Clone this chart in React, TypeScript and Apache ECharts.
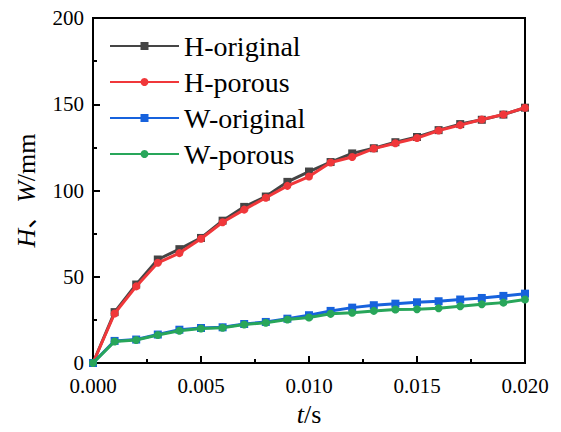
import React, { useEffect, useRef } from "react";
import * as echarts from "echarts";

const times = [0, 0.001, 0.002, 0.003, 0.004, 0.005, 0.006, 0.007, 0.008, 0.009, 0.01, 0.011, 0.012, 0.013, 0.014, 0.015, 0.016, 0.017, 0.018, 0.019, 0.02];
const hOriginal = [0, 29.5, 45.5, 60, 66, 72.5, 82.5, 90.5, 96.5, 105, 111, 116.5, 121.5, 124.5, 128, 131, 135, 138.5, 141, 144, 148];
const hPorous = [0, 28.7, 44.4, 58.1, 63.7, 72, 81.6, 88.9, 95.8, 102.7, 108.1, 116.2, 119.4, 124.3, 127.4, 130.4, 134.8, 137.9, 141.2, 144.1, 148];
const wOriginal = [0, 12.8, 13.6, 16.5, 19.3, 20.3, 20.7, 22.6, 23.8, 25.7, 27.7, 30.2, 32.1, 33.5, 34.4, 35.2, 35.8, 36.8, 37.7, 38.9, 40.2];
const wPorous = [0, 12.5, 13.3, 16.2, 18.7, 20, 20.4, 22.3, 23.3, 25.2, 26.4, 28.5, 29.1, 30.2, 31, 31.2, 31.7, 32.9, 34.1, 35, 36.8];
const seriesNames = ["H-original", "H-porous", "W-original", "W-porous"];
const colors = ["#454545", "#f0373a", "#1762dd", "#28a65a"];
const symbols = ["rect", "circle", "rect", "circle"];

const FONT = "Liberation Serif";
const serif = (size: number, italic = false) => ({
  fontFamily: FONT,
  fontSize: size,
  color: "#000",
  fontStyle: italic ? "italic" : "normal",
});

export default function App() {
  const ref = useRef<HTMLDivElement>(null);
  useEffect(() => {
    if (!ref.current) return;
    const chart = echarts.init(ref.current, null, { renderer: "svg" });
    const all = [hOriginal, hPorous, wOriginal, wPorous];
    chart.setOption({
      animation: false,
      backgroundColor: "#ffffff",
      textStyle: { fontFamily: FONT },
      grid: {
        left: 93,
        right: 36,
        top: 18,
        bottom: 67,
        show: true,
        borderColor: "#000",
        borderWidth: 2,
        backgroundColor: "transparent",
      },
      legend: {
        orient: "vertical",
        left: 104,
        top: 26,
        itemWidth: 69,
        itemHeight: 10,
        itemGap: 6,
        data: seriesNames,
        textStyle: { fontFamily: FONT, fontSize: 28, color: "#000", lineHeight: 30 },
      },
      xAxis: {
        type: "value",
        min: 0,
        max: 0.02,
        interval: 0.005,
        name: "{i|t}{n|/s}",
        nameLocation: "middle",
        nameGap: 38,
        nameTextStyle: {
          ...serif(26),
          rich: { i: serif(26, true), n: serif(26) },
        },
        axisLine: { show: true, lineStyle: { color: "#000", width: 2 } },
        axisTick: { show: true, inside: true, length: 7, lineStyle: { color: "#000", width: 2 } },
        minorTick: { show: true, splitNumber: 2, length: 4, lineStyle: { color: "#000", width: 2 } },
        splitLine: { show: false },
        axisLabel: {
          ...serif(21),
          margin: 12,
          formatter: (v: number) => v.toFixed(3),
        },
      },
      yAxis: {
        type: "value",
        min: 0,
        max: 200,
        interval: 50,
        name: "{i|H}{n|、}{i|W}{n|/mm}",
        nameLocation: "middle",
        nameGap: 54,
        nameRotate: 90,
        nameTextStyle: {
          ...serif(26),
          rich: { i: serif(26, true), n: serif(26) },
        },
        axisLine: { show: true, lineStyle: { color: "#000", width: 2 } },
        axisTick: { show: true, inside: true, length: 7, lineStyle: { color: "#000", width: 2 } },
        minorTick: { show: true, splitNumber: 2, length: 4, lineStyle: { color: "#000", width: 2 } },
        splitLine: { show: false },
        axisLabel: { ...serif(21), margin: 9 },
      },
      series: seriesNames.map((name, k) => ({
        name,
        type: "line",
        data: times.map((t, i) => [t, all[k][i]]),
        symbol: symbols[k],
        symbolSize: 8,
        showSymbol: true,
        color: colors[k],
        lineStyle: { width: 3, color: colors[k] },
        itemStyle: { color: colors[k] },
        z: 2 + k,
      })),
    });
    return () => chart.dispose();
  }, []);
  return (
    <>
      <style>{`#root svg text { font-family: "Liberation Serif", "Noto Sans CJK SC", serif !important; }`}</style>
      <div
        ref={ref}
        style={{ position: "fixed", left: 0, top: 0, width: 561, height: 432, background: "#fff" }}
      />
    </>
  );
}
